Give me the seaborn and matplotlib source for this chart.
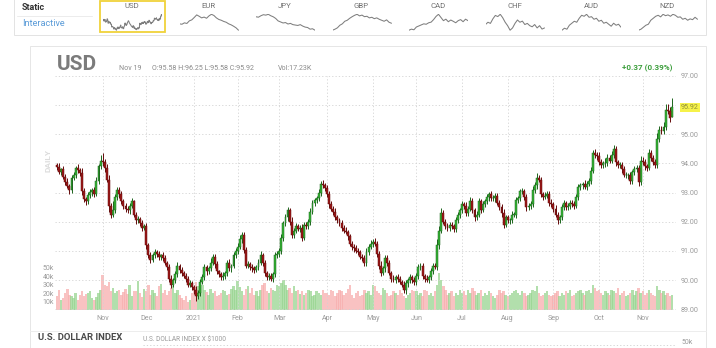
import numpy as np
import pandas as pd
import matplotlib
matplotlib.use("Agg")
import matplotlib.pyplot as plt
from matplotlib.patches import Rectangle
from matplotlib.lines import Line2D
import seaborn as sns

# ---------------- data ----------------
# daily closes of the US dollar index, one list per month (Oct 2020 .. Nov 19 2021)
close_2020_10 = [93.88, 93.72, 93.80, 93.55, 93.36, 93.22, 93.10, 93.50, 93.62, 93.85, 93.78,
                 93.68, 93.05, 92.78, 92.70, 92.92, 93.02, 93.10, 92.95, 93.40, 93.90, 94.10]
close_2020_11 = [94.05, 93.85, 93.45, 92.55, 92.25, 92.40, 92.85, 93.10, 92.95, 92.70, 92.55,
                 92.45, 92.40, 92.55, 92.70, 92.25, 92.05, 92.10, 91.95, 91.80, 91.85]
close_2020_12 = [91.20, 90.85, 90.70, 90.85, 90.95, 90.90, 90.80, 90.85, 90.75, 90.60, 90.45,
                 90.05, 89.85, 90.00, 90.20, 90.50, 90.35, 90.25, 90.15, 90.05, 89.85, 89.90, 89.75]
close_2021_01 = [89.65, 89.45, 89.55, 89.95, 90.10, 90.45, 90.30, 90.40, 90.60, 90.80, 90.55,
                 90.30, 90.20, 90.10, 90.15, 90.25, 90.60, 90.40, 90.50, 90.85, 91.00]
close_2021_02 = [91.15, 91.40, 91.55, 91.05, 90.50, 90.55, 90.45, 90.40, 90.35, 90.45, 90.60,
                 90.85, 90.60, 90.25, 90.10, 90.15, 90.05, 90.20, 90.85, 90.90]
close_2021_03 = [91.00, 91.45, 91.95, 92.15, 92.40, 92.00, 91.55, 91.70, 91.85, 91.75, 91.80,
                 91.45, 91.90, 91.85, 92.00, 92.35, 92.65, 92.75, 92.80, 93.00, 93.30, 93.25, 93.15]
close_2021_04 = [92.95, 92.60, 92.45, 92.35, 92.15, 92.05, 91.95, 91.80, 91.70, 91.65, 91.50,
                 91.25, 91.15, 91.10, 91.00, 90.95, 90.80, 90.75, 90.60, 90.95, 91.15, 91.25]
close_2021_05 = [91.30, 91.25, 90.90, 90.50, 90.25, 90.40, 90.75, 90.60, 90.25, 90.05, 90.00,
                 90.10, 90.05, 89.95, 89.85, 89.65, 89.90, 90.00, 90.10, 90.00, 89.95]
close_2021_06 = [90.15, 90.45, 90.50, 90.15, 90.05, 90.00, 90.10, 90.30, 90.50, 90.45, 91.20,
                 91.70, 92.30, 92.00, 91.85, 91.80, 91.90, 91.85, 91.75, 92.05, 92.25, 92.40]
close_2021_07 = [92.60, 92.55, 92.30, 92.45, 92.70, 92.40, 92.15, 92.25, 92.70, 92.40, 92.60,
                 92.70, 92.85, 92.95, 92.80, 92.80, 92.90, 92.65, 92.50, 92.30, 91.90, 92.15]
close_2021_08 = [92.05, 92.05, 92.25, 92.25, 92.75, 92.80, 93.05, 93.05, 92.85, 92.50, 92.55,
                 92.60, 93.10, 93.25, 93.50, 93.45, 92.95, 92.85, 92.90, 92.95, 92.65, 92.60]
close_2021_09 = [92.45, 92.25, 92.05, 92.15, 92.50, 92.65, 92.50, 92.55, 92.65, 92.60, 92.55,
                 92.85, 93.20, 93.25, 93.30, 93.20, 93.30, 93.40, 93.75, 94.35, 94.30, 94.25]
close_2021_10 = [94.05, 93.95, 94.00, 94.00, 94.20, 94.10, 94.30, 94.50, 94.05, 93.95, 93.95,
                 93.80, 93.60, 93.60, 93.60, 93.40, 93.70, 93.80, 93.85, 93.35, 94.10]
close_2021_11 = [94.05, 93.90, 93.85, 94.35, 94.20, 94.05, 93.95, 94.85, 95.15, 95.10, 95.25,
                 95.85, 95.80, 95.55, 95.92]

first_open = 93.95
last_open = 95.58

# upper / lower shadow lengths in hundredths, one line per month
upper_wick_txt = """
8 12 6 10 9 14 7 11 9 6 12 8 15 10 7 9 12 6 10 14 9 20
25 10 12 15 9 30 12 10 8 11 7 9 10 8 12 6 9 11 7 10 8
12 9 10 7 11 8 9 6 10 12 7 9 14 8 10 11 7 9 6 10 8 12 7
9 14 11 8 10 12 7 9 15 10 8 11 6 9 12 8 10 13 7 11 10
12 15 9 10 8 11 7 9 10 8 12 14 7 10 8 9 11 7 13 10
11 14 9 12 10 8 15 9 11 7 10 12 9 8 11 13 10 7 9 12 10 14 8
10 9 12 8 11 7 9 10 8 12 7 9 10 8 11 9 7 10 12 15 9 11
12 14 9 10 15 8 12 10 9 7 11 8 10 9 7 12 10 8 11 9 10
9 12 8 10 7 11 9 12 8 10 20 15 18 12 9 10 8 11 9 12 10 8
11 9 12 8 14 10 9 11 12 8 10 9 11 7 10 12 8 9 11 10 14 9
10 8 12 9 11 10 8 12 9 10 8 11 12 10 18 9 10 8 11 9 10 12
9 11 8 10 12 9 8 11 10 9 12 10 11 9 8 12 10 11 14 12 15 10
14 12 10 18 11 9 12 15 10 8 11 9 12 10 9 11 8 12 10 9 14
12 10 9 15 12 10 11 18 14 12 16 18 20 14 33
"""
lower_wick_txt = """
10 8 12 9 11 7 14 10 8 12 9 11 13 10 14 8 10 12 9 8 11 10
12 14 10 20 12 9 11 10 12 8 10 11 9 12 8 10 12 9 11 10 8
14 10 12 9 8 11 10 12 9 8 11 10 12 9 10 8 12 10 9 11 8 10 9
12 15 9 10 8 11 12 9 10 8 12 10 9 11 8 10 12 9 11 10 8
10 9 12 11 8 10 9 12 10 8 11 9 10 12 9 10 8 11 9 10
9 10 12 8 11 10 12 9 10 8 11 12 9 10 8 11 9 10 12 9 10 8 11
10 12 9 11 8 10 9 12 10 8 11 9 10 12 8 10 9 11 12 10 9 8
10 9 12 11 10 8 12 10 9 11 8 10 12 9 10 8 11 12 9 10 11
10 11 9 12 10 8 11 9 10 8 11 12 10 9 11 12 10 8 11 9 10 12
10 12 9 11 8 10 12 9 10 11 8 10 9 12 10 8 11 9 10 12 11 9
9 11 10 8 12 10 9 11 10 12 8 10 9 11 12 10 9 11 8 10 12 9
11 9 12 10 8 11 9 10 12 8 10 9 11 10 12 9 10 8 11 9 10 12
10 9 11 12 8 10 9 11 12 10 9 11 8 10 12 9 10 11 8 12 10
9 11 10 8 12 10 9 11 12 10 9 11 10 12 0
"""
# daily volume in thousands
volume_txt = """
16 24 12 14 20 25 18 16 14 20 12 18 22 16 19 20 22 14 12 15 20 24
42 30 28 33 22 26 20 22 24 18 21 25 19 30 16 22 23 34 20 15 25
22 30 18 24 20 16 28 31 20 24 18 22 26 28 20 24 18 14 12 16 10 12 20
26 33 28 22 30 24 21 18 25 20 22 16 18 20 24 22 18 19 25 28 24
35 27 22 18 25 28 20 26 18 22 16 24 30 32 22 20 26 24 22 30
28 32 36 30 24 26 20 28 22 24 19 22 18 20 24 22 16 18 22 20 18 24 20
20 18 24 22 16 20 24 22 18 20 25 30 18 14 20 22 16 18 24 20 22 18
30 28 22 20 18 26 24 20 16 18 22 20 18 24 20 16 14 18 20 24 22
22 18 20 16 24 22 18 20 16 22 30 44 36 28 24 18 20 22 16 20 18 24
20 22 18 24 20 26 22 18 20 24 16 20 18 22 20 16 14 18 24 20 22 18
16 18 20 22 24 20 18 22 20 16 18 20 24 22 28 20 16 18 20 22 18 16
18 20 22 16 20 18 22 20 24 16 18 20 22 24 20 18 22 24 20 30 26 22
24 20 18 22 20 18 24 22 20 26 18 20 22 16 18 20 24 18 22 26 20
22 18 20 24 20 18 16 28 24 20 22 18 20 16 17.23
"""

# sparkline series for the currency selector
tile_names = ["USD", "EUR", "JPY", "GBP", "CAD", "CHF", "AUD", "NZD"]
spark_eur = [0.40, 0.38, 0.45, 0.42, 0.55, 0.60, 0.72, 0.85, 0.78, 0.70, 0.74, 0.68, 0.80,
             0.88, 0.82, 0.70, 0.62, 0.58, 0.52, 0.48, 0.40, 0.35, 0.28, 0.20, 0.08]
spark_jpy = [0.80, 0.78, 0.85, 0.90, 0.88, 0.92, 0.85, 0.80, 0.72, 0.60, 0.55, 0.50, 0.52,
             0.45, 0.48, 0.42, 0.40, 0.38, 0.42, 0.35, 0.30, 0.28, 0.20, 0.22, 0.15]
spark_gbp = [0.10, 0.15, 0.22, 0.35, 0.42, 0.55, 0.60, 0.70, 0.78, 0.85, 0.90, 0.82, 0.86,
             0.78, 0.80, 0.72, 0.75, 0.68, 0.72, 0.65, 0.60, 0.55, 0.62, 0.50, 0.45]
spark_cad = [0.10, 0.15, 0.12, 0.25, 0.30, 0.35, 0.40, 0.38, 0.45, 0.48, 0.60, 0.75, 0.85,
             0.70, 0.55, 0.62, 0.50, 0.58, 0.52, 0.45, 0.55, 0.60, 0.50, 0.62, 0.55]
spark_chf = [0.45, 0.55, 0.50, 0.70, 0.85, 0.80, 0.90, 0.75, 0.55, 0.40, 0.20, 0.30, 0.50,
             0.65, 0.55, 0.60, 0.45, 0.50, 0.40, 0.35, 0.45, 0.30, 0.40, 0.25, 0.30]
spark_aud = [0.10, 0.20, 0.15, 0.35, 0.45, 0.55, 0.50, 0.70, 0.85, 0.80, 0.90, 0.75, 0.78,
             0.65, 0.70, 0.55, 0.60, 0.45, 0.50, 0.40, 0.30, 0.45, 0.35, 0.40, 0.25]
spark_nzd = [0.05, 0.10, 0.20, 0.30, 0.35, 0.55, 0.65, 0.75, 0.80, 0.72, 0.85, 0.78, 0.82,
             0.75, 0.85, 0.80, 0.70, 0.72, 0.60, 0.65, 0.55, 0.62, 0.58, 0.70, 0.60]

price_ticks = [89, 90, 91, 92, 93, 94, 95, 96, 97]
volume_ticks = [10, 20, 30, 40, 50]

# ---------------- assemble ----------------
closes = np.array(close_2020_10 + close_2020_11 + close_2020_12 + close_2021_01 + close_2021_02 +
                  close_2021_03 + close_2021_04 + close_2021_05 + close_2021_06 + close_2021_07 +
                  close_2021_08 + close_2021_09 + close_2021_10 + close_2021_11)
n = len(closes)
opens = np.r_[first_open, closes[:-1]]
opens[-1] = last_open
up_w = np.array(upper_wick_txt.split(), dtype=float)[:n] / 100
dn_w = np.array(lower_wick_txt.split(), dtype=float)[:n] / 100
volume = np.array(volume_txt.split(), dtype=float)[:n]
highs = np.maximum(opens, closes) + up_w
lows = np.minimum(opens, closes) - dn_w
dates = pd.bdate_range("2020-10-01", periods=n)
xi = np.arange(n)
is_up = closes >= opens

df = pd.DataFrame({"date": dates, "open": opens, "high": highs, "low": lows,
                   "close": closes, "volume": volume})

# month ticks at the first session of each month
month_ticks, month_labels = [], []
for i in range(1, n):
    if dates[i].month != dates[i - 1].month:
        month_ticks.append(i)
        month_labels.append(str(dates[i].year) if dates[i].month == 1 else dates[i].strftime("%b"))

# ---------------- figure ----------------
sns.set_theme(style="white")
plt.rcParams["font.family"] = ["Roboto", "DejaVu Sans"]

W, H = 716, 348
fig = plt.figure(figsize=(W / 100, H / 100), dpi=100)
fig.patch.set_facecolor("white")


def box(x0, y0, x1, y1):
    return [x0 / W, 1 - y1 / H, (x1 - x0) / W, (y1 - y0) / H]


# canvas axes in pixel coordinates for frames and labels
bg = fig.add_axes([0, 0, 1, 1])
bg.set_xlim(0, W)
bg.set_ylim(H, 0)
bg.axis("off")
bg.set_zorder(0)

# selector strip
bg.add_patch(Rectangle((14, -2), 692, 37, facecolor="white", edgecolor="#e3e3e3", lw=0.7))
bg.add_line(Line2D([17, 92], [15.5, 15.5], color="#ececec", lw=0.7))
bg.text(22, 7, "Static", fontsize=6.4, fontweight="bold", color="#333333", va="center")
bg.text(22, 24, "Interactive", fontsize=6.6, color="#5a9bd8", va="center")
tile_centers = [132 + 76.5 * k for k in range(len(tile_names))]
for name, cx in zip(tile_names, tile_centers):
    bg.text(cx, 6, name, fontsize=5.6, color="#707070", ha="center", va="center")
bg.add_patch(Rectangle((100, 1), 64.5, 31, facecolor="none", edgecolor="#f0d23a", lw=1.3))

# chart panel frame
bg.add_patch(Rectangle((30, 46), 676, 320, facecolor="white", edgecolor="#e6e6e6", lw=0.7))
bg.add_line(Line2D([30, 706], [330.5, 330.5], color="#ededed", lw=0.7))

# header
last = df.iloc[-1]
prev_close = closes[-2]
chg = last["close"] - prev_close
pct = chg / prev_close * 100
bg.text(57, 64, "USD", fontsize=15, fontweight="bold", color="#7b7b7b", va="center")
bg.text(119, 68.5, dates[-1].strftime("%b %d").replace(" 0", " "), fontsize=5.1, color="#8a8a8a", va="center")
bg.text(152, 68.5, f"O:{last['open']:.2f} H:{last['high']:.2f} L:{last['low']:.2f} C:{last['close']:.2f}",
        fontsize=5.1, color="#8a8a8a", va="center")
bg.text(278, 68.5, f"Vol:{last['volume']:.2f}K", fontsize=5.1, color="#8a8a8a", va="center")
bg.text(672, 68, f"{chg:+.2f} ({pct:.2f}%)", fontsize=5.8, fontweight="bold", color="#3c9e3c",
        ha="right", va="center")
bg.text(48, 160, "DAILY", fontsize=6, fontweight="bold", color="#dcdcdc", rotation=90,
        ha="center", va="center")

# lower panel caption
bg.text(38, 337.5, "U.S. DOLLAR INDEX", fontsize=6.8, fontweight="bold", color="#4a4a4a", va="center")
bg.text(143, 339.5, "U.S. DOLLAR INDEX X $1000", fontsize=4.7, color="#9a9a9a", va="center")
bg.add_line(Line2D([143, 676], [344.5, 344.5], color="#cfcfcf", lw=0.6, linestyle=(0, (1.5, 2.5))))
bg.text(681, 343, "50k", fontsize=5, color="#9a9a9a", va="center")

# ---------------- price + volume ----------------
pos = box(55.3, 76, 676, 309.9)
xlim = (-0.8, 298)

axv = fig.add_axes(pos)
axv.set_zorder(1)
axv.bar(xi, volume, width=1.15, color=np.where(is_up, "#98d590", "#f7aeae"), alpha=0.75, linewidth=0)
axv.set_xlim(*xlim)
axv.set_ylim(0, 279)
axv.set_xticks([])
axv.set_yticks(volume_ticks)
axv.set_yticklabels([f"{v}k" for v in volume_ticks])
axv.tick_params(axis="y", length=0, pad=1, labelsize=5, labelcolor="#9a9a9a")
for s in axv.spines.values():
    s.set_visible(False)

ax = fig.add_axes(pos)
ax.set_zorder(2)
ax.patch.set_alpha(0)
ax.set_xlim(*xlim)
ax.set_ylim(88.98, 97.0)
ax.set_yticks(price_ticks)
ax.set_yticklabels([f"{p:.2f}" for p in price_ticks])
ax.yaxis.tick_right()
ax.set_xticks(month_ticks)
ax.set_xticklabels(month_labels)
ax.tick_params(axis="y", length=0, pad=3.6, labelsize=5.1, labelcolor="#9a9a9a")
ax.tick_params(axis="x", length=0, pad=3.8, labelsize=5.1, labelcolor="#9a9a9a")
ax.grid(True, color="#d2d2d2", linestyle=(0, (1.5, 2.5)), linewidth=0.6)
for s in ax.spines.values():
    s.set_visible(False)

body_lo = np.minimum(opens, closes)
body_h = np.maximum(np.abs(closes - opens), 0.02)
for mask, face, edge in [(is_up, "#35b335", "#1c651c"), (~is_up, "#9c1818", "#650b0b")]:
    ax.vlines(xi[mask], lows[mask], highs[mask], color=edge, lw=0.7, zorder=3)
    ax.bar(xi[mask], body_h[mask], bottom=body_lo[mask], width=0.92, color=face,
           edgecolor=edge, linewidth=0.35, zorder=4)

# last price tag
ax.annotate(f"{closes[-1]:.2f}", xy=(1, closes[-1]), xycoords=("axes fraction", "data"),
            xytext=(3.6, 0), textcoords="offset points", ha="left", va="center",
            fontsize=5.1, color="#8f8f3a", annotation_clip=False, zorder=10,
            bbox=dict(boxstyle="square,pad=0.15", facecolor="#f6f24a", edgecolor="none"))

# ---------------- sparklines ----------------
spark_series = [closes, spark_eur, spark_jpy, spark_gbp, spark_cad, spark_chf, spark_aud, spark_nzd]
for cx, vals in zip(tile_centers, spark_series):
    sax = fig.add_axes(box(cx - 29, 13.5, cx + 30, 31))
    sax.set_zorder(3)
    sax.patch.set_alpha(0)
    vals = np.asarray(vals, dtype=float)
    sns.lineplot(x=np.arange(len(vals)), y=vals, ax=sax, color="#7e7e7e", linewidth=0.75)
    sax.set_xlim(0, len(vals) - 1)
    pad = (vals.max() - vals.min()) * 0.05
    sax.set_ylim(vals.min() - pad, vals.max() + pad)
    sax.axis("off")

fig.savefig("out.png", dpi=100, facecolor="white")
